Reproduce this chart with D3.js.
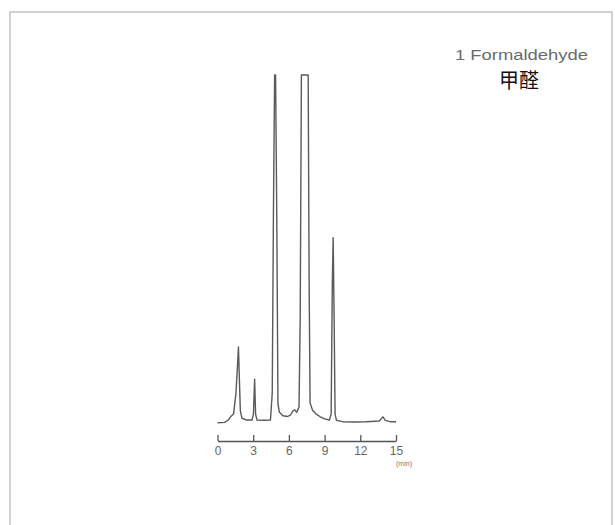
<!DOCTYPE html>
<html>
<head>
<meta charset="utf-8">
<script src="https://cdn.jsdelivr.net/npm/d3@7"></script>
<style>
  html, body { margin: 0; padding: 0; background: #fff; }
  svg { display: block; }
</style>
</head>
<body>
<div id="chart"></div>
<script>
// retention time (min) and detector signal (% of clipped full scale)
const times = [0.0, 0.6, 0.9, 1.1, 1.35, 1.55, 1.68, 1.76, 1.84, 1.92, 2.05, 2.4, 2.9, 3.02, 3.12, 3.2, 3.32,
  3.9, 4.45, 4.6, 4.7, 4.8, 4.88, 4.98, 5.08, 5.2, 5.5, 5.9, 6.15, 6.35, 6.5, 6.65, 6.85, 6.95, 7.05, 7.62,
  7.7, 7.78, 8.0, 8.3, 8.6, 9.0, 9.4, 9.55, 9.65, 9.72, 9.8, 9.88, 10.0, 10.5, 11.5, 12.5, 13.6, 13.9,
  14.1, 14.5, 15.0]
const signal = [-0.5, -0.4, 0.3, 1.2, 2.0, 8, 16, 21.4, 12, 3, 0.8, 0.3, 0.3, 2, 12.1, 2, 0.3,
  0.2, 0.3, 8, 60, 100, 100, 60, 5, 2.5, 1.5, 1.3, 1.8, 3, 3.2, 2.5, 4, 30, 100, 100,
  40, 5.2, 3, 2, 1.3, 0.6, 0.3, 2, 40, 53, 30, 2, 0.2, -0.2, -0.3, -0.2, 0, 1.2,
  0.2, -0.2, -0.2]
const tickValues = [0, 3, 6, 9, 12, 15]
const unitLabel = "(min)"
const compoundName = "1 Formaldehyde"
const compoundNameZh = "甲醛"

const width = 615
const height = 525

const svg = d3.select("#chart")
    .append("svg")
    .attr("width", width)
    .attr("height", height)

// outer frame (bottom edge runs off the page)
svg.append("rect")
    .attr("x", 10)
    .attr("y", 12)
    .attr("width", 602)
    .attr("height", 530)
    .attr("fill", "none")
    .attr("stroke", "#c4c4c4")
    .attr("stroke-width", 1.5)

const x = d3.scaleLinear().domain([0, 15]).range([217.5, 396])
const y = d3.scaleLinear().domain([0, 100]).range([421, 75])

const points = times.map((t, i) => [t, signal[i]])

const line = d3.line()
    .x(d => x(d[0]))
    .y(d => y(d[1]))

svg.append("path")
    .datum(points)
    .attr("d", line)
    .attr("fill", "none")
    .attr("stroke", "#5a5a5a")
    .attr("stroke-width", 1.4)
    .attr("stroke-linejoin", "round")

const axis = d3.axisBottom(x)
    .tickValues(tickValues)
    .tickSizeInner(-6)
    .tickSizeOuter(0)
    .tickPadding(5)

const gx = svg.append("g")
    .attr("transform", "translate(0,441)")
    .call(axis)

gx.select(".domain").attr("stroke", "#555").attr("stroke-width", 1.3)
gx.selectAll(".tick line").attr("stroke", "#555").attr("stroke-width", 1.3)
gx.selectAll(".tick text")
    .attr("fill", "#666")
    .style("font-family", "Liberation Sans, Arial, sans-serif")
    .style("font-size", "12px")

svg.append("text")
    .attr("x", 404)
    .attr("y", 466)
    .attr("text-anchor", "middle")
    .attr("fill", "#777")
    .style("font-family", "Liberation Sans, Arial, sans-serif")
    .style("font-size", "7px")
    .text(unitLabel)

svg.append("text")
    .attr("x", 455)
    .attr("y", 60)
    .attr("textLength", 133)
    .attr("lengthAdjust", "spacingAndGlyphs")
    .attr("fill", "#6a6a6a")
    .style("font-family", "Liberation Sans, Arial, sans-serif")
    .style("font-size", "14px")
    .text(compoundName)

svg.append("text")
    .attr("x", 519)
    .attr("y", 88)
    .attr("text-anchor", "middle")
    .attr("fill", "#111")
    .style("font-family", "Noto Sans CJK SC, sans-serif")
    .style("font-size", "20px")
    .text(compoundNameZh)
</script>
</body>
</html>
